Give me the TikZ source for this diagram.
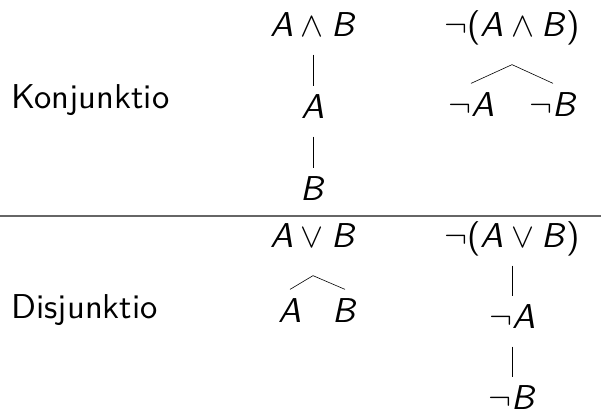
\documentclass[tikz,border=0pt]{standalone}
\usepackage{fix-cm}
\usepackage{tikz}
\usetikzlibrary{positioning}

\newcommand{\fa}{\textit{A}}
\newcommand{\fb}{\textit{B}}

\begin{document}
\begin{tikzpicture}[
    scale=3.15, transform shape,
    x=0.31746pt, y=-0.31746pt,
    bigfont/.style={font=\fontsize{10.95}{13}\selectfont\sffamily},
    fml/.style={bigfont, inner sep=0pt, anchor=base, text height=9.84pt, text depth=5.71pt},
    forktop/.style={fml, text depth=8.89pt},
    forkleaf/.style={fml, text height=10.16pt},
    rowlabel/.style={bigfont, inner sep=0pt, anchor=base west},
    branch/.style={line width=0.6pt},
]
    \useasboundingbox (0,0) rectangle (601,412);

    % Row labels
    \node[rowlabel] (kon) at (11,108) {Konjunktio};
    \node[rowlabel] (dis) at (11,318) {Disjunktio};

    % Konjunktio
    \node[fml] (and) at (313,36) {\fa${}\wedge{}$\fb};
    \node[fml] (anda) at (313,118) {\fa};
    \node[fml] (andb) at (313,200) {\fb};
    \draw[branch] (and.south) -- (anda.north);
    \draw[branch] (anda.south) -- (andb.north);

    \node[forktop] (nand) at (512,36) {$\neg$(\fa${}\wedge{}$\fb)};
    \node[forkleaf] (nanda) at (471,116) {$\neg$\fa};
    \node[forkleaf] (nandb) at (553,116) {$\neg$\fb};
    \draw[branch] (nand.south) -- (nanda.north);
    \draw[branch] (nand.south) -- (nandb.north);

    % Rule between rows
    \coordinate (rl) at (0,216);
    \coordinate (rr) at (601,216);
    \draw[black!60, line width=1.2pt] (rl) -- (rr);

    % Disjunktio
    \node[forktop] (or) at (313,247) {\fa${}\vee{}$\fb};
    \node[forkleaf] (ora) at (290,322) {\fa};
    \node[forkleaf] (orb) at (345,322) {\fb};
    \draw[branch] (or.south) -- (ora.north);
    \draw[branch] (or.south) -- (orb.north);

    \node[fml] (nor) at (512,247) {$\neg$(\fa${}\vee{}$\fb)};
    \node[fml] (nora) at (512,328) {$\neg$\fa};
    \node[fml, text depth=0pt] (norb) at (512,409) {$\neg$\fb};
    \draw[branch] (nor.south) -- (nora.north);
    \draw[branch] (nora.south) -- (norb.north);
\end{tikzpicture}
\end{document}
